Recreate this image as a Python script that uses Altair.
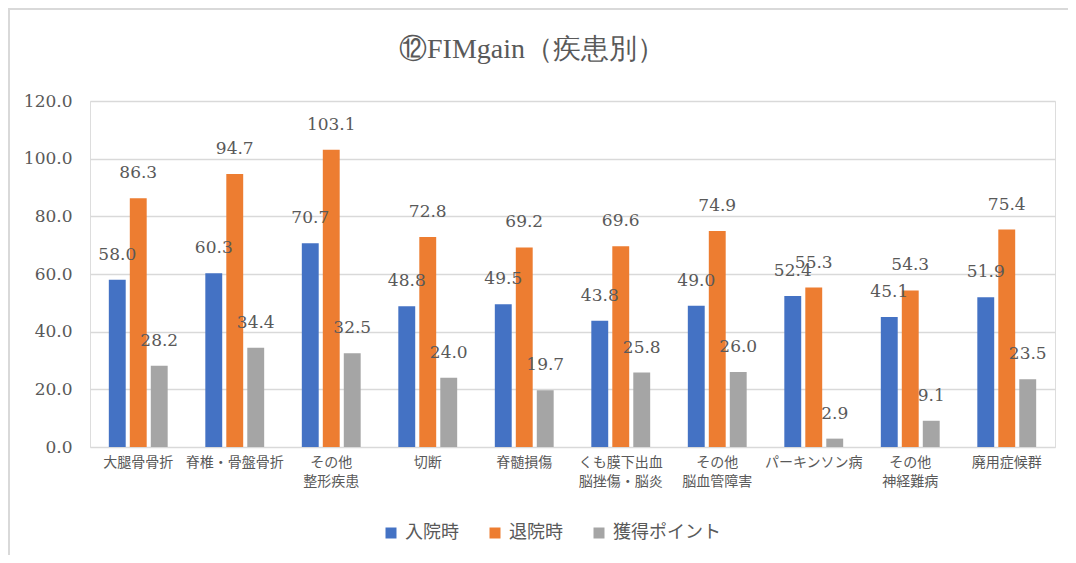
import altair as alt
import pandas as pd

categories = ["大腿骨骨折", "脊椎・骨盤骨折", "その他\n整形疾患", "切断", "脊髄損傷",
              "くも膜下出血\n脳挫傷・脳炎", "その他\n脳血管障害", "パーキンソン病",
              "その他\n神経難病", "廃用症候群"]
series = ["入院時", "退院時", "獲得ポイント"]
admission = [58.0, 60.3, 70.7, 48.8, 49.5, 43.8, 49.0, 52.4, 45.1, 51.9]
discharge = [86.3, 94.7, 103.1, 72.8, 69.2, 69.6, 74.9, 55.3, 54.3, 75.4]
gain = [28.2, 34.4, 32.5, 24.0, 19.7, 25.8, 26.0, 2.9, 9.1, 23.5]
colors = ["#4472C4", "#ED7D31", "#A5A5A5"]
y_ticks = [0, 20, 40, 60, 80, 100, 120]
title_text = "⑫FIMgain（疾患別）"

rows = []
for i, c in enumerate(categories):
    for s, vals in zip(series, [admission, discharge, gain]):
        rows.append({"category": c, "series": s, "value": vals[i]})
df = pd.DataFrame(rows)

NUM_FONT = "DejaVu Serif"
CJK_FONT = "Noto Sans CJK JP"
GREY = "#595959"

x_enc = alt.X("category:N", sort=categories,
              scale=alt.Scale(paddingInner=0.39, paddingOuter=0.195),
              axis=alt.Axis(title=None, labelAngle=0, domain=False, ticks=False,
                            labelPadding=8, labelExpr="split(datum.label, '\\n')",
                            labelFontSize=14, labelColor=GREY, labelLineHeight=19,
                            labelFont=CJK_FONT))
xo_enc = alt.XOffset("series:N", sort=series,
                     scale=alt.Scale(paddingInner=0.195, paddingOuter=0))
y_enc = alt.Y("value:Q", scale=alt.Scale(domain=[0, 120]),
              axis=alt.Axis(values=y_ticks, format=".1f", title=None, domain=False,
                            ticks=False, grid=True, gridColor="#D9D9D9", gridWidth=1.5,
                            labelPadding=18, labelFontSize=17, labelColor=GREY,
                            labelFont=NUM_FONT))

base = alt.Chart(df)

bars = base.mark_bar().encode(
    x=x_enc, xOffset=xo_enc, y=y_enc,
    color=alt.Color("series:N", sort=series,
                    scale=alt.Scale(domain=series, range=colors),
                    legend=alt.Legend(orient="none", legendX=292, legendY=423,
                                      direction="horizontal", title=None,
                                      symbolType="square", symbolSize=121,
                                      symbolStrokeWidth=0, labelFontSize=18,
                                      labelColor=GREY, labelFont=CJK_FONT,
                                      columnPadding=27, labelOffset=5)),
)

labels = base.mark_text(dy=-20, baseline="alphabetic", fontSize=17, color=GREY,
                        font=NUM_FONT).encode(
    x=x_enc, xOffset=xo_enc, y=y_enc,
    text=alt.Text("value:Q", format=".1f"),
)

one = alt.Data(values=[{}])
frame_top = alt.Chart(one).mark_rule(color="#D9D9D9", strokeWidth=2).encode(
    x=alt.value(-82), x2=alt.value(978), y=alt.value(-92))
frame_left = alt.Chart(one).mark_rule(color="#D9D9D9", strokeWidth=2).encode(
    x=alt.value(-81), y=alt.value(-93), y2=alt.value(454))
title = alt.Chart(one).mark_text(text=title_text, fontSize=28, font="Liberation Serif",
                                 color=GREY, align="center", baseline="middle").encode(
    x=alt.value(442), y=alt.value(-51))

chart = alt.layer(frame_top, frame_left, title, bars, labels).properties(
    width=965, height=346,
    autosize=alt.AutoSizeParams(type="none"),
    padding={"left": 82, "top": 93, "right": 13, "bottom": 108},
).configure_view(stroke=None).configure(background="white")

chart.save("out.html", embed_options={"renderer": "svg", "actions": False})
